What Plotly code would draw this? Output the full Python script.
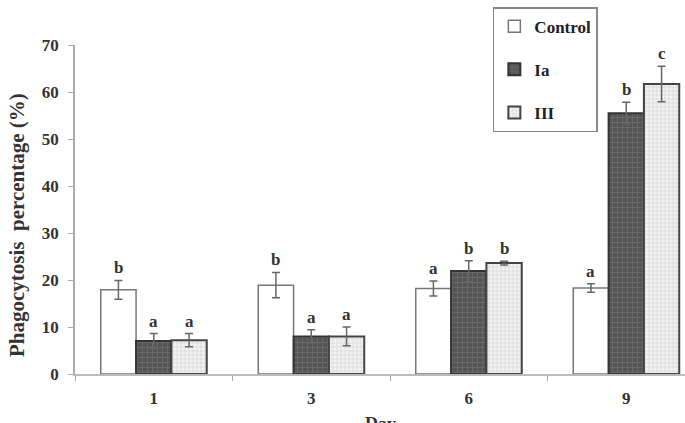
import plotly.graph_objects as go

days = ["1", "3", "6", "9"]
x_pos = [0, 1, 2, 3]

control = [17.9, 18.9, 18.2, 18.3]
control_err = [2.0, 2.7, 1.6, 0.9]
control_sig = ["b", "b", "a", "a"]

ia = [7.0, 8.0, 21.9, 55.5]
ia_err = [1.6, 1.4, 2.2, 2.3]
ia_sig = ["a", "a", "b", "b"]

iii = [7.2, 8.0, 23.6, 61.7]
iii_err = [1.4, 2.0, 0.4, 3.8]
iii_sig = ["a", "a", "b", "c"]

series = [
    ("Control", control, control_err, control_sig),
    ("Ia", ia, ia_err, ia_sig),
    ("III", iii, iii_err, iii_sig),
]

FONT = "Liberation Serif"
styles = {
    "Control": dict(color="white", line=dict(color="#777777", width=1.5)),
    "Ia": dict(color="#5a5a5a", line=dict(color="#333333", width=2),
               pattern=dict(shape="+", bgcolor="#555555", fgcolor="#858585", size=5, solidity=0.3)),
    "III": dict(color="#eeeeee", line=dict(color="#444444", width=2),
                pattern=dict(shape="+", bgcolor="#f2f2f2", fgcolor="#b5b5b5", size=4, solidity=0.3)),
}

fig = go.Figure()
bargap = 0.327
bw = (1 - bargap) / 3
for k, (name, vals, errs, sig) in enumerate(series):
    fig.add_trace(go.Bar(
        x=x_pos, y=vals, name="<b>%s</b>" % name, legendgroup=name,
        marker=styles[name],
        error_y=dict(type="data", array=errs, color="#666666", thickness=1.5, width=4),
    ))
    for i, (v, e, s) in enumerate(zip(vals, errs, sig)):
        fig.add_annotation(
            x=x_pos[i] + (k - 1) * bw, y=v + e, text="<b>%s</b>" % s,
            showarrow=False, yanchor="bottom", yshift=1,
            font=dict(family=FONT, size=17, color="#333333"),
        )

fig.add_annotation(
    xref="paper", yref="paper", x=-0.095, y=0.453, xanchor="center", yanchor="middle",
    text="<b>Phagocytosis  percentage (%)</b>", textangle=-90, showarrow=False,
    font=dict(family=FONT, size=21, color="#333333"),
)
fig.add_annotation(
    xref="paper", yref="paper", x=0.5, y=-0.115, xanchor="center", yanchor="top",
    text="<b>Day</b>", showarrow=False,
    font=dict(family=FONT, size=18, color="#333333"),
)

fig.update_layout(
    width=685, height=423,
    margin=dict(l=75, r=0, t=45, b=49),
    plot_bgcolor="white", paper_bgcolor="white",
    barmode="group", bargap=bargap, bargroupgap=0,
    showlegend=True,
    legend=dict(
        x=0.685, y=1.115, xanchor="left", yanchor="top",
        bordercolor="#888888", borderwidth=1.5, bgcolor="white",
        font=dict(family=FONT, size=17, color="#222222"),
        traceorder="grouped", tracegroupgap=18,
        itemwidth=30,
    ),
    font=dict(family=FONT, color="#333333"),
)

fig.update_xaxes(
    range=[-0.5, 3.373], tickvals=x_pos, ticktext=["<b>%s</b>" % d for d in days],
    ticks="", showline=True, linecolor="#bbbbbb", linewidth=1.5,
    showgrid=False, zeroline=False, automargin=False,
    tickfont=dict(family=FONT, size=17, color="#333333"),
    ticklabelstandoff=8,
    minor=dict(tick0=0.5, dtick=1, ticks="outside", ticklen=5, tickcolor="#aaaaaa", showgrid=False),
)
fig.update_yaxes(
    range=[0, 70], dtick=10, ticks="outside", ticklen=5, tickcolor="#aaaaaa",
    showline=True, linecolor="#aaaaaa", linewidth=1.5,
    showgrid=False, zeroline=False, automargin=False,
    tickfont=dict(family=FONT, size=17, color="#333333"),
    tickprefix="<b>", ticksuffix="</b>",
    ticklabelstandoff=6,
)

fig.write_html("out.html")
